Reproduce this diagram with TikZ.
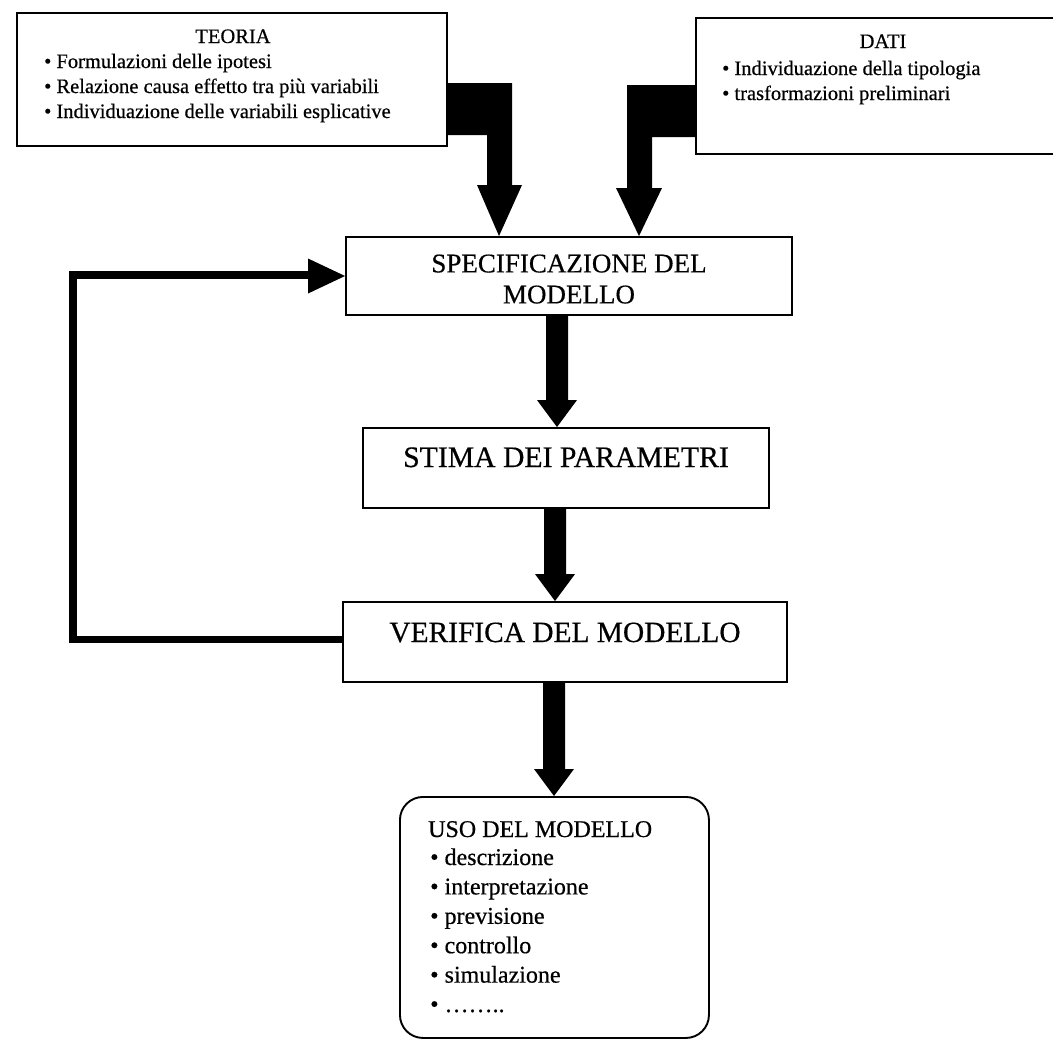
\documentclass[tikz,border=0pt]{standalone}
\usepackage{fontspec}
\setmainfont{Liberation Serif}[FakeBold=0.5]
\usetikzlibrary{calc}

\tikzset{
  frame/.style={draw, line width=1.9pt, inner sep=0pt},
  smalltext/.style={font=\fontsize{20.5}{25}\selectfont, inner sep=0pt},
  usotext/.style={font=\fontsize{24}{29}\selectfont, inner sep=0pt},
  bigtext/.style={font=\fontsize{#1}{31}\selectfont},
  loopline/.style={line width=7.5pt, line join=miter},
}

% solid block arrow pointing down, from the bottom of #2 to the top of #3 along x = #1
\newcommand\blockdown[3]{%
  \fill ($(#2.south -| #1,0)+(-11,0)$) -- ($(#2.south -| #1,0)+(11,0)$)
     -- ($(#3.north -| #1,0)+(11,-27)$) -- ($(#3.north -| #1,0)+(20,-27)$)
     -- (#3.north -| #1,0)
     -- ($(#3.north -| #1,0)+(-20,-27)$) -- ($(#3.north -| #1,0)+(-11,-27)$) -- cycle;}

\begin{document}
\begin{tikzpicture}[x=1pt,y=-1pt]
\useasboundingbox (0,0) rectangle (1053,1039);

% ---- input boxes ----
\node[frame, anchor=north west, minimum width=430pt, minimum height=133pt] (teoria) at (16,12) {};
\node[smalltext, anchor=base] (teoria-title) at ($(teoria.north west)+(217,31)$) {TEORIA};
\foreach \txt [count=\i] in {Formulazioni delle ipotesi,
    Relazione causa effetto tra più variabili,
    Individuazione delle variabili esplicative}
  \node[smalltext, anchor=base west] (teoria-\i) at ($(teoria.north west)+(28,{31+25*\i})$) {\textbullet\ \txt};

\node[frame, anchor=north west, minimum width=365pt, minimum height=136pt] (dati) at (695,17) {};
\node[smalltext, anchor=base] (dati-title) at ($(dati.north west)+(188,31)$) {DATI};
\foreach \txt [count=\i] in {Individuazione della tipologia, trasformazioni preliminari}
  \node[smalltext, anchor=base west] (dati-\i) at ($(dati.north west)+(27,{33+25*\i})$) {\textbullet\ \txt};

% ---- main chain ----
\node[frame, bigtext=27, align=center, minimum width=446pt, minimum height=78pt] (spec) at (569,276)
  {\rule{0pt}{24pt}SPECIFICAZIONE DEL\\MODELLO};
\node[frame, bigtext=29.7, anchor=base, minimum width=406pt, text height=39pt, text depth=41pt] (stima) at (566,467)
  {STIMA DEI PARAMETRI};
\node[frame, bigtext=29.4, anchor=base, minimum width=444pt, text height=40pt, text depth=40pt] (verifica) at (565,642)
  {VERIFICA DEL MODELLO};

% ---- output box ----
\node[frame, rounded corners=23pt, anchor=north west, minimum width=309pt, minimum height=241pt] (uso) at (399,796) {};
\node[usotext, anchor=base west] (uso-title) at ($(uso.north west)+(29,41)$) {USO DEL MODELLO};
\foreach \txt [count=\i] in {descrizione, interpretazione, previsione, controllo, simulazione, ……..}
  \node[usotext, anchor=base west] (uso-\i) at ($(uso.north west)+(31,{39.6+29.4*\i})$) {\textbullet\ \txt};

% ---- L-shaped arrows from the input boxes ----
\fill (teoria.east |- 0,83) -- (512,83) -- (512,185) -- (522,185) -- (499,0 |- spec.north)
   -- (477,185) -- (487,185) -- (487,135) -- (teoria.east |- 0,135) -- cycle;
\fill (dati.west |- 0,85) -- (627,85) -- (627,188) -- (616,188) -- (639,0 |- spec.north)
   -- (662,188) -- (652,188) -- (652,137) -- (dati.west |- 0,137) -- cycle;

% ---- arrows down the chain ----
\blockdown{557}{spec}{stima}
\blockdown{555}{stima}{verifica}
\blockdown{554}{verifica}{uso}

% ---- feedback loop ----
\draw[loopline] ($(verifica.west)+(1,-2.5)$) -| (73,275) -- ($(spec.west)+(-35,-1)$);
\fill ($(spec.west)+(-37,-17.5)$) -- (spec.west) -- ($(spec.west)+(-37,17.5)$) -- cycle;
\end{tikzpicture}
\end{document}
